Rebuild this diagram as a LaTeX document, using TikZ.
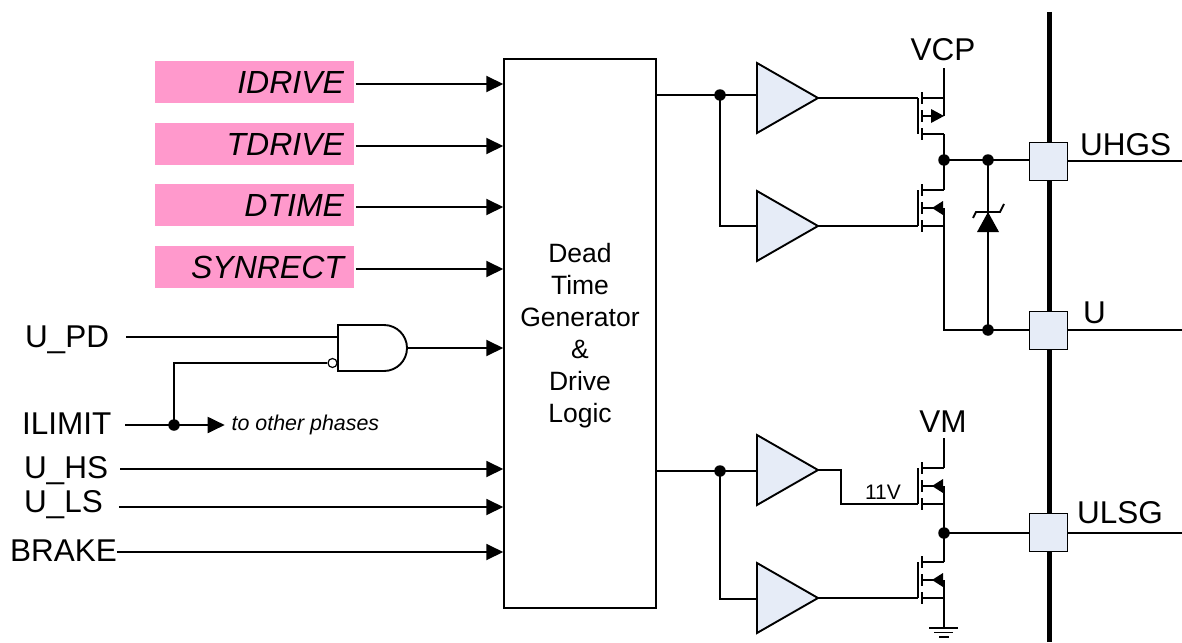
\documentclass[tikz,border=0pt]{standalone}
\usepackage{fontspec}
\setmainfont{Liberation Sans}
\usetikzlibrary{arrows.meta,positioning}
\usetikzlibrary{shapes.geometric}
\definecolor{regpink}{HTML}{FF99CC}
\definecolor{partblue}{HTML}{E6ECF7}
\newcommand\bigtxt{\fontsize{31.5}{33}\selectfont}
\tikzset{
  pics/fetup/.style={code={
    \coordinate (-g) at (-4,0); \coordinate (-d) at (22,0); \coordinate (-s) at (22,36); %%
    \draw (-4,0) -- (-4,36); %%
    \draw (0,-6) -- (0,6) (0,12) -- (0,24) (0,30) -- (0,42); %%
    \draw (0,0) -- (22,0) -- (22,18) (0,36) -- (22,36) (0,18) -- (10,18); %%
    \fill (22,18) -- (9,11) -- (9,25) -- cycle; %%
  }},
  pics/fetdown/.style={code={
    \coordinate (-g) at (-4,36); \coordinate (-d) at (22,0); \coordinate (-s) at (22,36); %%
    \draw (-4,0) -- (-4,36); %%
    \draw (0,-6) -- (0,6) (0,12) -- (0,24) (0,30) -- (0,42); %%
    \draw (0,0) -- (22,0) (22,18) -- (22,36) -- (0,36) (0,18) -- (12,18); %%
    \fill (10,18) -- (21,11) -- (21,25) -- cycle; %%
  }}
}
\begin{document}
\begin{tikzpicture}[x=1pt,y=-1pt,line width=1.9pt,
  sig/.style={-{Triangle[length=17pt,width=16pt]}},
  reg/.style={fill=regpink,minimum height=42pt,text width=179pt,inner sep=0pt,inner xsep=10pt,align=right,font=\fontsize{32}{34}\selectfont\itshape},
  pin/.style={anchor=west,inner sep=0pt,outer sep=0pt,font=\bigtxt},
  buf/.style={draw,fill=partblue,isosceles triangle,isosceles triangle stretches,minimum width=70pt,minimum height=61pt,inner sep=0pt,outer sep=0pt,anchor=apex},
  port/.style={draw,line width=1pt,fill=partblue,minimum size=38pt,inner sep=0pt},
  dot/.style={circle,fill=black,minimum size=11.5pt,inner sep=0pt}]
\useasboundingbox (0,0) rectangle (1182,642); %%

%% inputs and logic block
\node[reg] (idrive) at (254.5,82) {IDRIVE}; %%
\node[reg] (tdrive) at (254.5,144) {TDRIVE}; %%
\node[reg] (dtime) at (254.5,205) {DTIME}; %%
\node[reg] (synrect) at (254.5,267) {SYNRECT}; %%
\node[draw,line width=1.5pt,minimum width=152pt,minimum height=549pt,inner sep=0pt] (dtg) at (580,333.5) {}; %%
\node[inner sep=0pt,yshift=-2pt,align=center,font=\fontsize{26.5}{32}\selectfont] (dtgtxt) at (dtg.center) {Dead\\Time\\Generator\\\&\\Drive\\Logic}; %%
\foreach \n in {idrive,tdrive,dtime,synrect}
  \draw[sig] ([xshift=1pt,yshift=-2pt]\n.east) -- ([yshift=-2pt]\n.east -| dtg.west); %%

\node[pin] (upd) at (25,340) {U\_PD}; %%
\node[pin] (ilimit) at (22,424) {ILIMIT}; %%
\node[pin] (uhs) at (24,471) {U\_HS}; %%
\node[pin] (uls) at (24,505) {U\_LS}; %%
\node[pin] (brake) at (10,551) {BRAKE}; %%
\node[minimum width=69pt,minimum height=46pt,inner sep=0pt,outer sep=0pt] (nand) at (372.5,348) {}; %%
\draw (nand.south west) -- (nand.north west) -- ++(46,0) arc (90:-90:23pt) -- cycle; %%
\node[circle,draw,fill=white,line width=1.2pt,minimum size=9pt,inner sep=0pt] (bub) at (332.5,363) {}; %%
\coordinate (nanda) at (338,337); %%
\node[dot] (ilimitdot) at (174,425) {}; %%
\node[right=2pt of ilimitdot,xshift=48pt,inner sep=0pt,font=\fontsize{21.4}{23}\selectfont\itshape] (other) {to other phases}; %%
\draw ([xshift=17pt]upd.east |- nanda) -- (nanda); %%
\draw (ilimitdot.center) |- (bub.west); %%
\draw[sig] ([xshift=14pt]ilimit.east |- ilimitdot) -- (ilimitdot.center) -- ([xshift=-6pt]other.west |- ilimitdot); %%
\draw[sig] (nand.east) -- (nand.east -| dtg.west); %%
\draw[sig] ([xshift=12pt,yshift=2pt]uhs.east) -- ([yshift=2pt]uhs.east -| dtg.west); %%
\draw[sig] ([xshift=16pt,yshift=-2pt]uls.east) -- ([yshift=-2pt]uls.east -| dtg.west); %%
\draw[sig] ([yshift=-1pt]brake.east) -- ([yshift=-1pt]brake.east -| dtg.west); %%

%% buffers
\node[buf] (bufa) at (818,98) {}; %%
\node[buf] (bufb) at (818,226) {}; %%
\node[buf] (bufc) at (818,470) {}; %%
\node[buf] (bufd) at (818,598) {}; %%
\node[dot] (fana) at (720,95) {}; %%
\node[dot] (fanb) at (720,471) {}; %%
\coordinate (bufain) at (757,95); %%
\coordinate (bufbin) at (757,226); %%
\coordinate (bufcin) at (757,471); %%
\coordinate (bufdin) at (757,599); %%
\draw (dtg.east |- fana) -- (bufain); %%
\draw (fana.center) |- (bufbin); %%
\draw (dtg.east |- fanb) -- (bufcin); %%
\draw (fanb.center) |- (bufdin); %%

%% bus and ports
\coordinate (bustop) at (1049,12); %%
\coordinate (busend) at (1049,642); %%
\draw[line width=5pt] (bustop) -- (busend); %%
\node[port] (uhgs) at (1048.5,161) {}; %%
\node[port] (uout) at (1048.5,330) {}; %%
\node[port] (ulsg) at (1048.5,532) {}; %%
\coordinate (uhgsend) at (1182,161); %%
\coordinate (uoutend) at (1182,330); %%
\coordinate (ulsgend) at (1182,533); %%
\draw (uhgs.east) -- (uhgsend); %%
\draw (uout.east) -- (uoutend); %%
\draw ([yshift=-1pt]ulsg.east) -- (ulsgend); %%
\node[pin] (uhgstxt) at (1080,145) {UHGS}; %%
\node[pin] (uouttxt) at (1083,313) {U}; %%
\node[pin] (ulsgtxt) at (1077,513) {ULSG}; %%

%% output stages
\pic (qa) at (922,98) {fetup}; %%
\pic (qb) at (922,190) {fetdown}; %%
\pic (qc) at (922,468) {fetdown}; %%
\pic (qd) at (922,562) {fetdown}; %%
\node[inner sep=0pt,font=\bigtxt] (vcp) at (943,50) {VCP}; %%
\node[inner sep=0pt,font=\bigtxt] (vm) at (943,422) {VM}; %%
\node[inner sep=0pt,font=\fontsize{21}{23}\selectfont] (elevenv) at (883,492) {11V}; %%
\coordinate (vcpend) at (944,68); %%
\coordinate (vmend) at (944,438); %%
\draw (vcpend) -- (qa-d); %%
\draw (vmend) -- (qc-d); %%
\draw (bufa.apex) -- (qa-g); %%
\draw (bufb.apex) -- (qb-g); %%
\draw (bufc.apex) -- +(23,0) |- (qc-g); %%
\draw (bufd.apex) -- (qd-g); %%

\node[dot] (mida) at (944,160) {}; %%
\node[dot] (midb) at (988,160) {}; %%
\node[dot] (lowa) at (988,330) {}; %%
\node[dot] (midc) at (944,533) {}; %%
\draw (qa-s) -- (qb-d); %%
\draw (mida.center) -- (uhgs.west |- mida); %%
\draw (qb-s) |- (uout.west); %%
\draw (qc-s) -- (qd-d); %%
\draw (midc.center) -- ([yshift=-1pt]ulsg.west); %%

%% zener
\node[isosceles triangle,shape border rotate=90,isosceles triangle stretches,fill=black,minimum width=22pt,minimum height=20pt,inner sep=0pt,outer sep=0pt,anchor=apex] (zen) at (988,212) {}; %%
\draw (midb.center) -- (zen.apex); %%
\draw (zen.apex) -- (lowa.center); %%
\draw (973,218) -- (976,212) -- (1000,212) -- (1004,204); %%

%% ground
\node[inner sep=0pt,minimum size=0pt] (gnd) at (944,628) {}; %%
\draw (qd-s) -- (gnd.center); %%
\draw (929,628) -- (958,628) (934,632.5) -- (953,632.5) (939,637) -- (949,637); %%
\end{tikzpicture}
\end{document}
